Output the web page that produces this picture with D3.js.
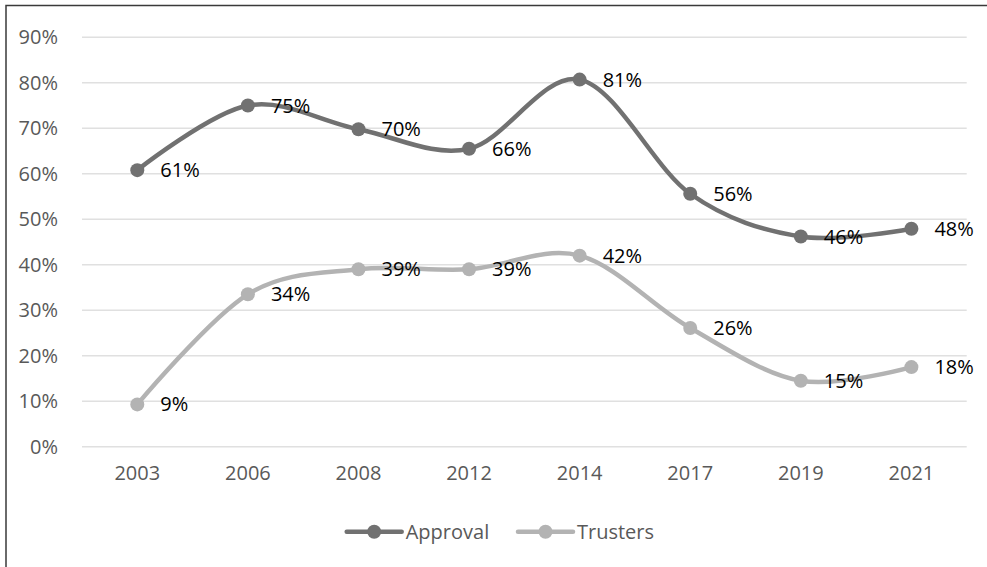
<!DOCTYPE html>
<html lang="en">
<head>
    <meta charset="UTF-8">
    <title>Approval and Trusters</title>
    <style>
        body { margin: 0; background: #fff; }
        text { font-family: "Open Sans", sans-serif; }
    </style>
</head>
<body>
    <script src="https://cdn.jsdelivr.net/npm/d3@7"></script>
    <script>

        // data
        var years = ["2003", "2006", "2008", "2012", "2014", "2017", "2019", "2021"];
        var approval = [60.8, 75, 69.8, 65.5, 80.7, 55.6, 46.2, 47.9];
        var trusters = [9.3, 33.5, 39, 39, 42, 26.1, 14.5, 17.5];
        var yTicks = [0, 10, 20, 30, 40, 50, 60, 70, 80, 90];

        var series = [
            { name: "Approval", values: approval, color: "#717171" },
            { name: "Trusters", values: trusters, color: "#b3b3b3" }
        ];

        var width = 987,
            height = 567;

        var x = d3.scaleBand()
            .domain(years)
            .range([82, 966.7]);

        var y = d3.scaleLinear()
            .domain([0, 90])
            .range([446.7, 37.3]);

        var svg = d3.select("body").append("svg")
            .attr("width", width)
            .attr("height", height);

        // frame
        svg.append("rect")
            .attr("x", 6)
            .attr("y", 5.5)
            .attr("width", 1000)
            .attr("height", 600)
            .attr("fill", "none")
            .attr("stroke", "#3a3a3a")
            .attr("stroke-width", 1.5);

        // gridlines
        svg.append("g")
            .selectAll("line")
            .data(yTicks)
            .enter().append("line")
            .attr("x1", x.range()[0])
            .attr("x2", x.range()[1])
            .attr("y1", function(d) { return y(d); })
            .attr("y2", function(d) { return y(d); })
            .attr("stroke", "#e0e0e0")
            .attr("stroke-width", 1.5);

        // y axis labels
        var yAxis = d3.axisLeft(y)
            .tickValues(yTicks)
            .tickSize(0)
            .tickPadding(0)
            .tickFormat(function(d) { return d + "%"; });

        svg.append("g")
            .attr("transform", "translate(58,0)")
            .call(yAxis)
            .call(function(g) { g.select(".domain").remove(); })
            .selectAll("text")
            .attr("font-family", "Open Sans")
            .attr("font-size", 20)
            .attr("fill", "#595959");

        // x axis labels
        var xAxis = d3.axisBottom(x)
            .tickSize(0)
            .tickPadding(0);

        svg.append("g")
            .attr("transform", "translate(0,466)")
            .call(xAxis)
            .call(function(g) { g.select(".domain").remove(); })
            .selectAll("text")
            .attr("font-family", "Open Sans")
            .attr("font-size", 20)
            .attr("fill", "#595959");

        var cx = function(d, i) { return x(years[i]) + x.bandwidth() / 2; };

        var line = d3.line()
            .x(cx)
            .y(function(d) { return y(d); })
            .curve(d3.curveCardinal.tension(0));

        var g = svg.selectAll(".series")
            .data(series)
            .enter().append("g")
            .attr("class", "series");

        g.append("path")
            .attr("d", function(s) { return line(s.values); })
            .attr("fill", "none")
            .attr("stroke", function(s) { return s.color; })
            .attr("stroke-width", 4.5)
            .attr("stroke-linecap", "round");

        g.each(function(s) {
            var sel = d3.select(this);
            sel.selectAll("circle")
                .data(s.values)
                .enter().append("circle")
                .attr("cx", cx)
                .attr("cy", function(d) { return y(d); })
                .attr("r", 7)
                .attr("fill", s.color);

            sel.selectAll("text.label")
                .data(s.values)
                .enter().append("text")
                .attr("class", "label")
                .attr("x", function(d, i) { return cx(d, i) + 23; })
                .attr("y", function(d) { return y(d); })
                .attr("dy", "0.35em")
                .attr("font-size", 20)
                .attr("fill", "#000")
                .text(function(d) { return Math.round(d) + "%"; });
        });

        // legend
        var legendX = [346.7, 518];
        var legend = svg.selectAll(".legend")
            .data(series)
            .enter().append("g")
            .attr("class", "legend")
            .attr("transform", function(d, i) { return "translate(" + legendX[i] + ",531.7)"; });

        legend.append("line")
            .attr("x1", 0)
            .attr("x2", 55)
            .attr("stroke", function(d) { return d.color; })
            .attr("stroke-width", 4.5)
            .attr("stroke-linecap", "round");

        legend.append("circle")
            .attr("cx", 27.5)
            .attr("r", 7)
            .attr("fill", function(d) { return d.color; });

        legend.append("text")
            .attr("x", 59)
            .attr("dy", "0.35em")
            .attr("font-size", 20)
            .attr("fill", "#595959")
            .text(function(d) { return d.name; });

    </script>
</body>
</html>
